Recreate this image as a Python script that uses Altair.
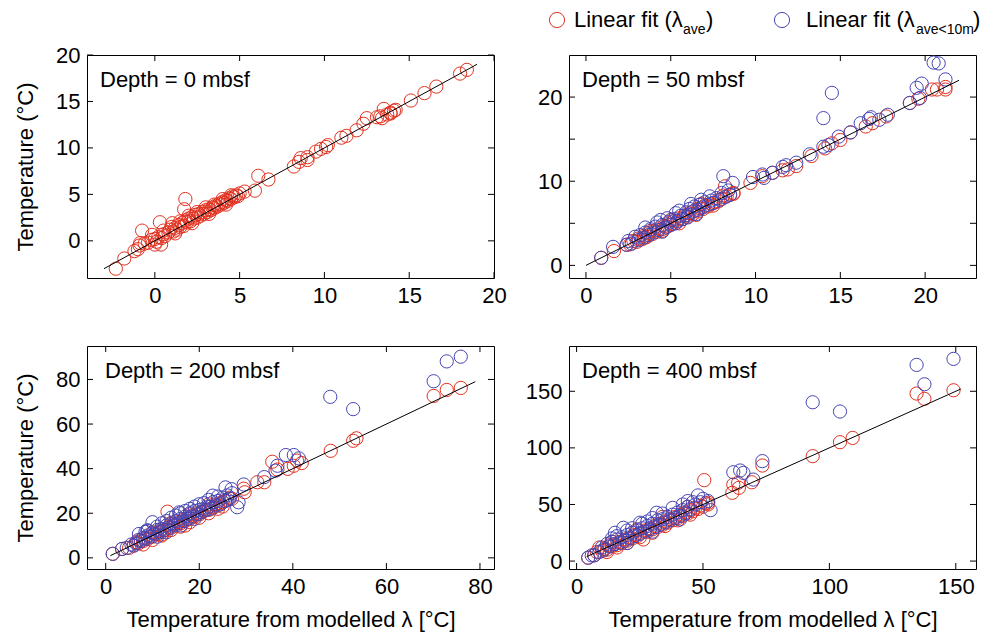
import altair as alt
import pandas as pd

RED = "#e2311f"
BLUE = "#4646b4"
FONT = "Liberation Sans"

# ---------------- data ----------------
# Panel 1: depth 0 mbsf (red only)
p1_red_x = [-2.3, -1.8, -1.2, -0.75, -0.86, -0.16, 0.3, 0.37, 1.03, 1.8, 1.73,
            -1.0, -0.9, -0.6, -0.4, -0.2, 0.0, 0.1, 0.2, 0.4, 0.5, 0.6, 0.8, 0.9, 1.1, 1.2,
            1.3, 1.4, 1.5, 1.6, 1.7, 1.8, 1.9, 2.0, 2.1, 2.2, 2.3, 2.4, 2.5, 2.6, 2.7, 2.8,
            2.9, 3.0, 3.1, 3.2, 3.3, 3.4, 3.5, 3.6, 3.7, 3.8, 3.9, 4.0, 4.1, 4.2, 4.3, 4.4,
            4.5, 4.6, 4.7, 4.8, 4.9, 5.0,
            1.0, 1.5, 2.0, 2.5, 3.0, 3.5, 4.0, 4.5, 1.2, 2.2, 3.2, 4.2, 0.5, 0.0,
            5.3, 5.9, 6.1, 6.7, 8.2, 8.5, 8.6, 9.0, 9.0, 9.5, 9.8, 10.1, 10.2, 11.0, 11.3,
            11.9, 12.3, 12.5, 13.1, 13.4, 13.5, 13.3, 13.7, 13.9, 14.1, 14.2, 13.9, 15.1,
            15.9, 16.6, 18.0, 18.4]
p1_red_y = [-3.0, -1.9, -1.1, 1.1, -0.24, 0.64, 2.0, -0.4, 1.9, 4.5, 3.4,
            -0.9, -0.5, -0.3, -0.2, 0.1, 0.2, -0.1, 0.4, 0.3, 0.7, 0.5, 0.9, 1.2, 1.0, 1.4,
            1.2, 1.7, 1.5, 1.9, 1.6, 2.2, 2.0, 2.4, 2.1, 2.6, 2.4, 2.8, 2.5, 2.9, 2.7, 3.1,
            2.9, 3.3, 3.1, 3.4, 3.3, 3.6, 3.5, 3.8, 3.7, 4.0, 3.9, 4.2, 4.1, 4.4, 4.3, 4.6,
            4.5, 4.8, 4.7, 4.9, 4.8, 5.1,
            1.5, 2.1, 2.7, 3.1, 3.6, 3.9, 4.5, 4.9, 0.8, 1.9, 2.9, 3.9, 1.1, -0.4,
            5.3, 5.4, 7.0, 6.6, 8.0, 8.5, 8.9, 8.7, 9.0, 9.6, 9.9, 10.1, 10.3, 11.1, 11.3,
            11.9, 12.6, 13.2, 13.3, 13.2, 14.2, 13.4, 13.6, 13.8, 14.0, 14.1, 13.7, 15.1,
            15.9, 16.6, 18.0, 18.4]
p1_blue_x = []
p1_blue_y = []

# Panel 2: depth 50 mbsf
p2_red_x = [0.9, 1.65, 2.4,
            2.6, 2.8, 3.0, 3.1, 3.3, 3.4, 3.6, 3.7, 3.9, 4.0, 4.2, 4.3, 4.5, 4.6, 4.8, 4.9,
            5.1, 5.2, 5.4, 5.5, 5.7, 5.8, 6.0, 6.1, 6.3, 6.4, 6.6, 6.7, 6.9, 7.0, 7.2, 7.4,
            7.6, 7.8, 8.0, 8.1, 8.3, 8.5, 8.7,
            3.5, 4.5, 5.5, 6.5, 7.5, 3.8, 5.0, 6.8,
            8.2, 8.7, 9.7, 10.4, 11.0, 11.6, 11.9, 12.4, 13.3, 14.1, 14.5, 15.0, 15.6,
            16.5, 16.9, 17.7, 19.1, 19.6, 20.4, 20.7, 21.2, 21.2]
p2_red_y = [0.9, 1.7, 2.45,
            2.5, 2.9, 2.8, 3.2, 3.1, 3.5, 3.4, 3.8, 3.7, 4.1, 4.0, 4.4, 4.3, 4.7, 4.6, 5.0,
            4.9, 5.3, 5.2, 5.6, 5.5, 5.9, 5.8, 6.2, 6.1, 6.5, 6.4, 6.8, 6.7, 7.1, 7.0, 7.3,
            7.5, 7.6, 7.9, 8.3, 8.2, 8.4, 8.5,
            3.3, 4.1, 5.0, 6.0, 7.1, 4.1, 5.4, 7.3,
            9.4, 8.6, 9.8, 10.6, 11.0, 11.3, 11.4, 11.8, 13.0, 13.9, 14.5, 14.9, 15.8,
            16.5, 16.9, 17.7, 19.3, 19.8, 20.9, 20.9, 20.9, 21.2]
p2_blue_x = [0.9, 1.6, 2.4,
             2.5, 2.7, 2.9, 3.1, 3.2, 3.4, 3.5, 3.7, 3.8, 4.0, 4.1, 4.3, 4.4, 4.5, 4.7, 4.9,
             5.0, 5.2, 5.3, 5.4, 5.6, 5.7, 5.9, 6.0, 6.1, 6.3, 6.4, 6.6, 6.7, 6.9, 7.0, 7.2,
             7.4, 7.5, 7.7, 7.9, 8.0, 8.2, 8.4, 8.5, 5.3, 6.0,
             3.5, 4.2, 4.8, 5.5, 6.2, 6.8, 7.3, 4.5, 6.5,
             8.1, 8.65, 9.85, 10.4, 10.5, 11.0, 11.6, 11.8, 12.4, 13.2, 14.0, 14.5, 14.0,
             14.3, 14.9, 15.6, 16.2, 16.7, 16.8, 17.3, 17.8, 19.1, 19.5, 19.8, 19.7,
             20.5, 20.8, 21.2]
p2_blue_y = [0.9, 2.2, 2.45,
             2.9, 2.6, 3.4, 3.0, 3.6, 3.3, 3.9, 3.6, 4.3, 3.9, 4.6, 4.2, 5.4, 4.8, 4.5, 5.2,
             4.8, 5.5, 6.2, 5.3, 5.9, 5.5, 6.3, 6.0, 6.7, 6.4, 7.0, 6.6, 7.2, 6.9, 7.5, 7.2,
             7.7, 7.4, 8.0, 7.8, 8.6, 8.1, 8.9, 8.4, 5.0, 5.7,
             4.5, 5.1, 5.6, 6.5, 7.3, 7.8, 8.2, 4.0, 6.1,
             10.6, 9.8, 10.5, 10.8, 10.4, 11.0, 11.7, 11.9, 12.2, 13.2, 17.5, 20.5, 14.1,
             14.3, 15.3, 15.8, 16.9, 17.4, 17.6, 17.3, 17.9, 19.3, 21.1, 21.6, 19.9,
             24.1, 24.0, 22.1]

# Panel 3: depth 200 mbsf
p3_red_x = [1.5, 3.5,
            5, 6, 6.5, 7, 7.5, 8, 8.5, 9, 9.5, 10, 10.5, 11, 11.5, 12, 12.5, 13, 13.5, 14,
            14.5, 15, 15.5, 16, 16.5, 17, 17.5, 18, 18.5, 19, 19.5, 20, 20.5, 21, 21.5, 22,
            22.5, 23, 23.5, 24, 24.5, 25, 25.5, 26, 26.5, 27, 17, 12,
            8, 10, 12, 14, 16, 18, 20, 22, 24, 10, 14, 18, 22, 25,
            13.2, 29.7, 29.5, 32.4, 33.9, 35.6, 36.7, 38.9, 40.2, 40.9, 41.9,
            48.1, 52.9, 53.6, 70.1, 72.9, 75.9]
p3_red_y = [1.8, 4.0,
            4.5, 5.5, 7, 6.5, 8, 7.5, 9, 8.5, 9.5, 9.5, 11, 10.5, 12, 11.5, 12.5, 12.5, 14,
            13.5, 15, 14.5, 16, 15.5, 17, 16.5, 17.5, 17.5, 19, 18.5, 20, 19.5, 20.5, 21,
            21.5, 21.5, 23, 22.5, 24, 23.5, 24.5, 25, 25.5, 26, 27, 26.5, 14.5, 10.5,
            6, 8, 10, 12.5, 14, 16, 18, 20, 22, 11.5, 15.5, 19.5, 24, 23,
            20.7, 29.4, 31.0, 33.9, 33.9, 43.1, 39.6, 39.9, 41.3, 43.6, 42.5,
            48.0, 52.5, 53.6, 72.6, 75.3, 76.2]
p3_blue_x = [1.5, 3.5, 4.5, 5.5, 6, 6.5, 7, 7.1, 8.5, 8.9, 10.0,
             7.5, 8, 8.5, 9, 9.5, 10, 10.5, 11, 11.5, 12, 12.5, 13, 13.5, 14, 14.5, 15,
             15.5, 16, 16.5, 17, 17.5, 18, 18.5, 19, 19.5, 20, 20.5, 21, 21.5, 22, 22.5,
             23, 23.5, 24, 24.5, 25, 25.5, 26, 26.5, 27, 25.6, 26.9, 22.9, 15.7,
             9, 11, 12, 13, 14, 15, 16, 17, 18, 19, 20, 21, 22, 24, 11, 13, 16, 19,
             28.1, 28.4, 29.5, 33.9, 36.7, 36.3, 38.5, 40.2, 41.3,
             48.0, 52.9, 70.1, 72.9, 75.9]
p3_blue_y = [1.8, 4.0, 4.5, 6, 5.5, 6.5, 8, 10.7, 11.7, 12.4, 16.0,
             7.5, 9, 8.5, 10, 9.5, 11, 10.5, 12.5, 11.5, 13, 12.5, 14.5, 13.5, 15.5, 14.5,
             16.5, 15.5, 17.5, 16.5, 18.5, 17.5, 20, 18.5, 21, 19.5, 21.5, 20.5, 22, 21.5,
             23, 22, 25, 23.5, 25.5, 24, 27, 25.5, 28, 26.5, 29, 31.6, 30.8, 27.9, 20.4,
             12, 14, 15.5, 16.5, 18, 19, 20, 21, 22, 23, 24, 24.5, 26, 27.5, 9.5, 11.5,
             14.5, 17.5,
             22.7, 24.9, 32.9, 36.2, 41.3, 39.1, 46.1, 46.1, 44.6,
             72.2, 66.7, 79.2, 88.1, 90.2]

# Panel 4: depth 400 mbsf
p4_red_x = [4.6, 7.0,
            8, 9, 10, 11, 12, 13, 14, 15, 16, 17, 18, 19, 20, 21, 22, 23, 24, 25, 26.4, 27,
            28, 29, 30, 31, 32, 33, 34, 35, 36, 37, 38, 39, 40, 41, 42, 43, 44, 45, 46, 47,
            48, 49, 50, 51, 52,
            12, 16, 20, 25, 30, 35, 40, 45, 14, 24, 34, 44,
            50.5, 52.1, 61.6, 62.0, 63.9, 64.2, 69.3, 73.5, 93.4, 104.2, 109.2,
            134.5, 137.6, 149.1]
p4_red_y = [3.0, 5.1,
            8, 12, 9, 11, 10, 14, 13, 15, 14, 17, 16, 19, 18, 21, 20, 23, 22, 25, 19.1, 27,
            26, 29, 28, 31, 30, 33, 32, 35, 34, 37, 36, 39, 38, 41, 40, 43, 42, 45, 44, 47,
            46, 49, 48, 51, 50,
            8, 12, 16, 21, 25, 31, 36, 41, 17, 28, 39, 48,
            71.5, 51.6, 60.3, 67.6, 69.1, 64.7, 69.6, 84.4, 92.7, 105.0, 108.8,
            148.0, 143.3, 150.9]
p4_blue_x = [4.6, 7.0, 6, 9, 10, 11, 12, 13, 14, 15, 16, 17, 18, 19, 20, 21, 22, 23, 24,
             25, 26, 27, 28, 29, 30, 31, 32, 33, 34, 35, 36, 37, 38, 39, 40, 41, 42, 43, 44,
             45, 46, 47, 48, 49, 50, 52, 53, 40.9, 15.2, 18.5, 25.1, 31.7,
             14, 16, 20, 22, 26, 28, 30, 34, 38, 42, 44, 20, 30,
             62.0, 64.7, 66.0, 69.9, 73.5, 93.4, 104.2, 134.5, 137.6, 149.1]
p4_blue_y = [3.0, 5.1, 5, 8, 12, 10, 15, 13, 17, 15, 19, 16, 21, 18, 23, 20, 25, 22, 27,
             24, 29, 26, 31, 28, 33, 30, 36, 32, 37, 34, 39, 36, 41, 38, 43, 40, 45, 42, 48,
             46, 52, 50, 58, 52, 55, 53, 45, 36.8, 25.0, 29.4, 33.9, 42.7,
             20, 22, 27, 29, 33, 35, 38, 42, 47, 50, 53, 16, 26,
             78.5, 80.0, 77.9, 72.0, 88.3, 140.3, 132.1, 173.3, 156.2, 178.6]

depth_labels = ["Depth = 0 mbsf", "Depth = 50 mbsf", "Depth = 200 mbsf", "Depth = 400 mbsf"]
x_domains = [[-4, 20], [-1, 23], [-4, 83], [-3, 158]]
y_domains = [[-4, 20], [-1.5, 25], [-5, 95], [-7, 190]]
x_ticks = [[0, 5, 10, 15, 20], [0, 5, 10, 15, 20], [0, 20, 40, 60, 80], [0, 50, 100, 150]]
x_labels = [[0, 5, 10, 15, 20], [0, 5, 10, 15, 20], [0, 20, 40, 60, 80], [0, 50, 100, 150]]
y_ticks = [[0, 5, 10, 15, 20], [0, 5, 10, 15, 20], [0, 20, 40, 60, 80], [0, 50, 100, 150]]
y_labels = [[0, 5, 10, 15, 20], [0, 10, 20], [0, 20, 40, 60, 80], [0, 50, 100, 150]]
fit_x = [[-3, 19], [0, 22], [1, 79], [4, 152]]
fit_y = [[-3, 19], [0, 22], [1, 79], [4, 152]]

y_title = "Temperature (°C)"
x_title = "Temperature from modelled λ [°C]"
legend_main = ["Linear fit (λ", "Linear fit (λ"]
legend_sub = ["ave", "ave<10m"]
legend_close = [")", ")"]

series = [
    (p1_red_x, p1_red_y, p1_blue_x, p1_blue_y),
    (p2_red_x, p2_red_y, p2_blue_x, p2_blue_y),
    (p3_red_x, p3_red_y, p3_blue_x, p3_blue_y),
    (p4_red_x, p4_red_y, p4_blue_x, p4_blue_y),
]

W, H = 407, 223
TL = 6  # inward tick length
MSIZE = 175


def panel(i):
    rx, ry, bx, by = series[i]
    xs = alt.Scale(domain=x_domains[i], nice=False, zero=False)
    ys = alt.Scale(domain=y_domains[i], nice=False, zero=False)
    xa = alt.Axis(values=x_labels[i], ticks=False, domain=False, grid=False,
                  labelFontSize=22, labelPadding=7, labelFlush=False, labelOverlap=False,
                  title=x_title if i >= 2 else None, titleFontSize=22,
                  titleFontWeight="normal", titlePadding=12)
    ya = alt.Axis(values=y_labels[i], ticks=False, domain=False, grid=False,
                  labelFontSize=22, labelPadding=7, labelFlush=False, labelOverlap=False,
                  title=y_title if i % 2 == 0 else None, titleFontSize=22,
                  titleFontWeight="normal", titlePadding=18)
    X = lambda: alt.X("x:Q", scale=xs, axis=xa)
    Y = lambda: alt.Y("y:Q", scale=ys, axis=ya)

    xt = pd.DataFrame({"x": x_ticks[i]})
    yt = pd.DataFrame({"y": y_ticks[i]})
    rule = dict(color="black", strokeWidth=1)
    layers = [
        alt.Chart(xt).mark_rule(**rule).encode(x=X(), y=alt.value(0), y2=alt.value(TL)),
        alt.Chart(xt).mark_rule(**rule).encode(x=X(), y=alt.value(H - TL), y2=alt.value(H)),
        alt.Chart(yt).mark_rule(**rule).encode(y=Y(), x=alt.value(0), x2=alt.value(TL)),
        alt.Chart(yt).mark_rule(**rule).encode(y=Y(), x=alt.value(W - TL), x2=alt.value(W)),
    ]
    layers.append(
        alt.Chart(pd.DataFrame({"x": rx, "y": ry})).mark_point(
            shape="circle", filled=False, size=MSIZE, strokeWidth=1, color=RED, opacity=1
        ).encode(x=X(), y=Y())
    )
    if bx:
        layers.append(
            alt.Chart(pd.DataFrame({"x": bx, "y": by})).mark_point(
                shape="circle", filled=False, size=MSIZE, strokeWidth=1, color=BLUE, opacity=1
            ).encode(x=X(), y=Y())
        )
    layers.append(
        alt.Chart(pd.DataFrame({"x": fit_x[i], "y": fit_y[i]})).mark_line(
            color="black", strokeWidth=1
        ).encode(x=X(), y=Y())
    )
    layers.append(
        alt.Chart(pd.DataFrame({"t": [depth_labels[i]]})).mark_text(
            align="left", baseline="alphabetic", fontSize=22, color="black"
        ).encode(x=alt.value(18 if i == 2 else 13), y=alt.value(32), text="t:N")
    )
    if i == 1:
        lg = pd.DataFrame({"m": legend_main, "s": legend_sub, "c": legend_close})
        # circle x, text offset, sub offset (from circle), close offset (from sub)
        spots = [(-12, RED, 17, 126, 23), (213, BLUE, 24, 134, 57)]
        for k, (cx, col, t_off, s_off, c_off) in enumerate(spots):
            row = lg.iloc[[k]]
            layers.append(
                alt.Chart(row).mark_point(shape="circle", filled=False, size=230,
                                          strokeWidth=1, color=col, opacity=1)
                .encode(x=alt.value(cx), y=alt.value(-35))
            )
            layers.append(
                alt.Chart(row).mark_text(align="left", baseline="alphabetic", fontSize=22,
                                         color="black")
                .encode(x=alt.value(cx + t_off), y=alt.value(-28), text="m:N")
            )
            sub_x = cx + s_off
            layers.append(
                alt.Chart(row).mark_text(align="left", baseline="alphabetic", fontSize=14,
                                         color="black")
                .encode(x=alt.value(sub_x), y=alt.value(-21), text="s:N")
            )
            layers.append(
                alt.Chart(row).mark_text(align="left", baseline="alphabetic", fontSize=22,
                                         color="black")
                .encode(x=alt.value(sub_x + c_off), y=alt.value(-28), text="c:N")
            )
    return alt.layer(*layers).properties(width=W, height=H)


chart = (
    alt.concat(panel(0), panel(1), panel(2), panel(3), columns=2,
               spacing=alt.RowColnumber(row=68, column=75), bounds="flush")
    .properties(padding={"left": 6, "top": 0, "right": 5, "bottom": 5})
    .configure(font=FONT)
    .configure_view(stroke="black", strokeWidth=1)
)

chart.save("out.html", embed_options={"renderer": "svg", "actions": False})
